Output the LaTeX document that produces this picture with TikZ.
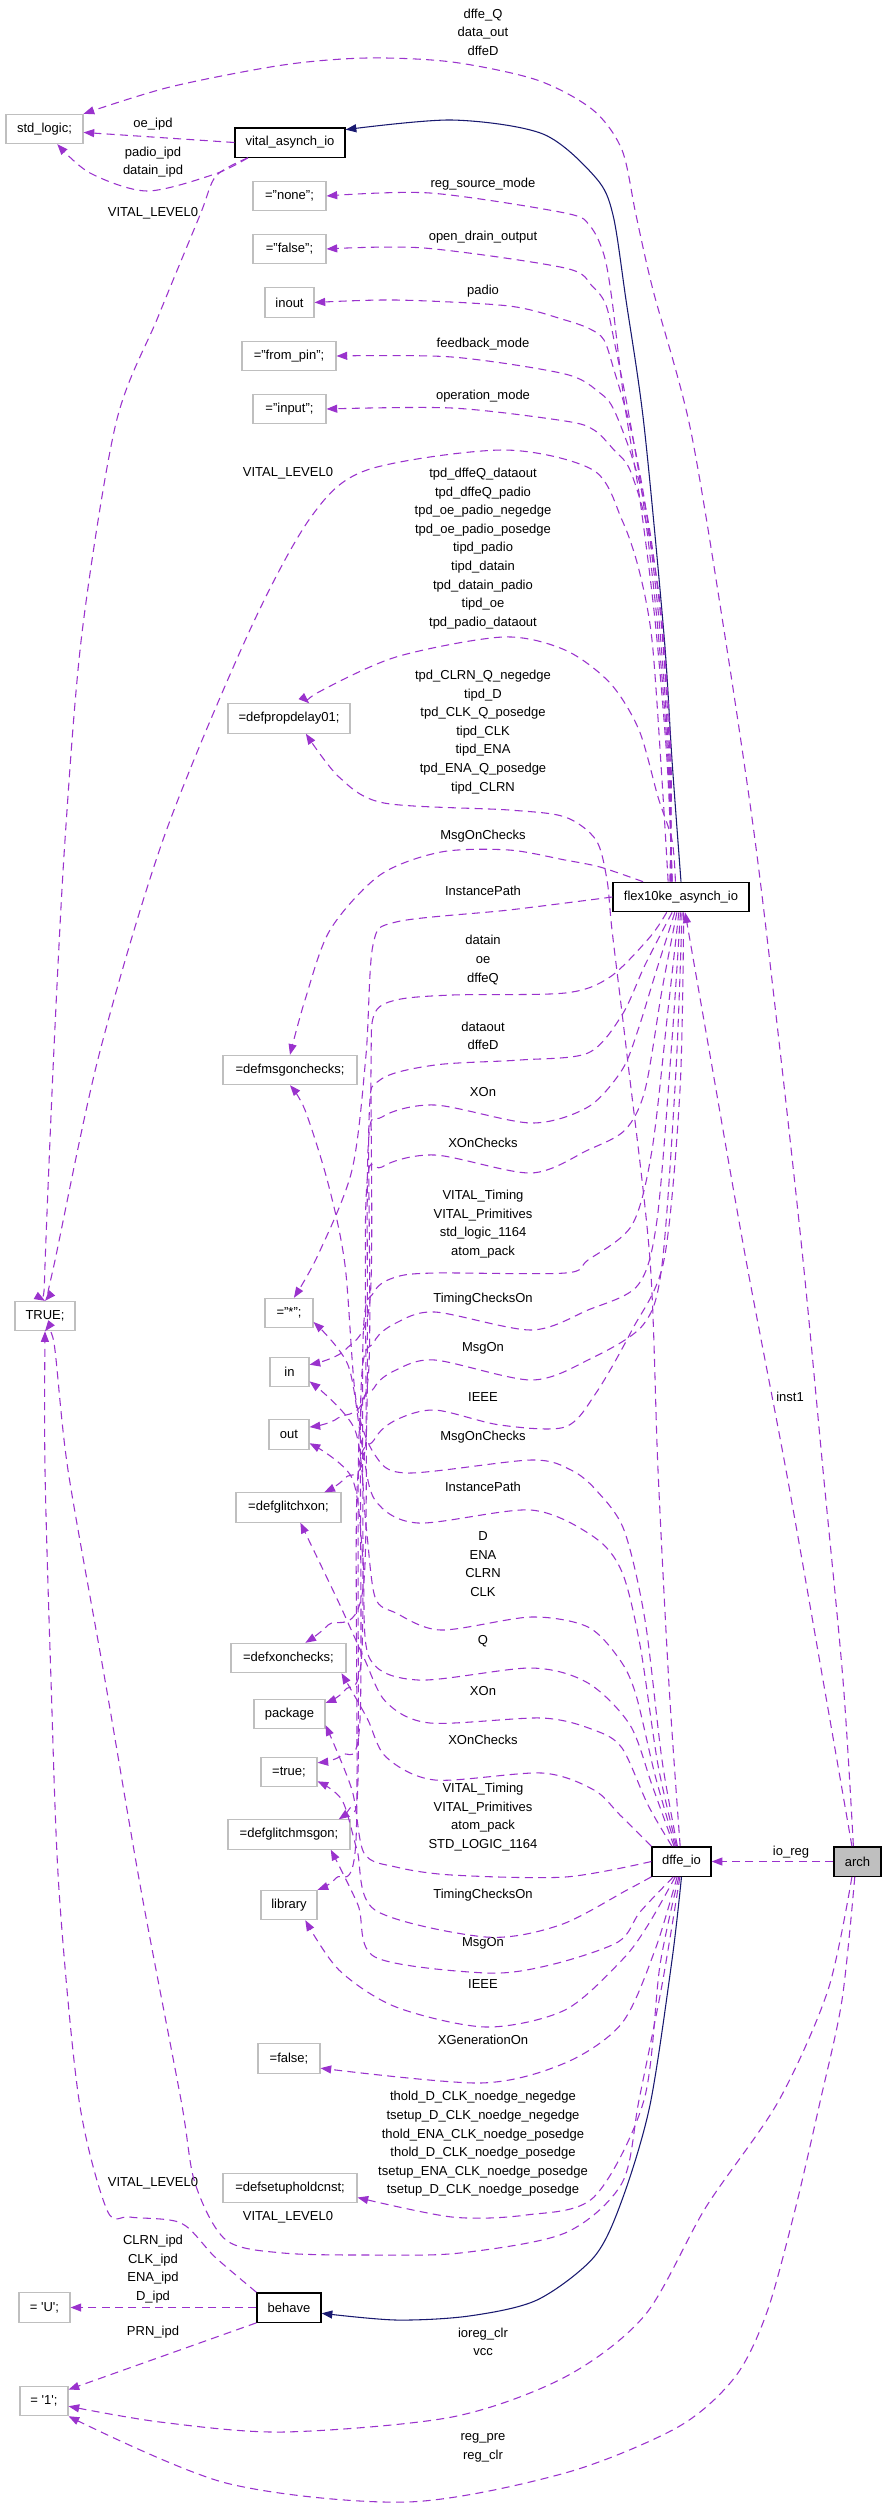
\documentclass[tikz,border=0pt]{standalone}
\usepackage{fontspec}
\setmainfont{Liberation Sans}
\usetikzlibrary{arrows.meta}
\definecolor{depc}{RGB}{154,50,205}
\definecolor{inhc}{RGB}{25,25,112}
\definecolor{gbd}{RGB}{191,191,191}
\newcommand\eplot[2]{\draw[#1] plot[smooth,tension=0.5] coordinates {#2};}
\begin{document}
\begin{tikzpicture}[x=0.75pt,y=-0.75pt,
  every node/.style={font=\fontsize{9.75}{13.95}\selectfont},
  gbox/.style={draw=gbd,line width=0.8pt,fill=white,minimum height=22pt,inner sep=0pt},
  kbox/.style={draw=black,line width=1pt,fill=white,minimum height=22pt,inner sep=0pt},
  lab/.style={align=center,inner sep=0pt},
  dep/.style={draw=depc,line width=0.8pt,dash pattern=on 6pt off 4pt,-{Triangle[length=8pt,width=6pt]}},
  inh/.style={draw=inhc,line width=0.8pt,-{Triangle[length=8pt,width=6pt]}}]
\fill[white] (0,0) rectangle (883,2517);
\useasboundingbox (0,0) rectangle (883,2517);
% nodes
\node[gbox,minimum width=57.75pt] (std) at (44.5,129) {std\_logic;};
\node[kbox,minimum width=82.5pt] (vital) at (290,142.5) {vital\_asynch\_io};
\node[gbox,minimum width=54.75pt] (none) at (289.5,196) {="none";};
\node[gbox,minimum width=54.75pt] (false1) at (289.5,249) {="false";};
\node[gbox,minimum width=36.75pt] (inout) at (289.5,302.5) {inout};
\node[gbox,minimum width=70.5pt] (frompin) at (289,356) {="from\_pin";};
\node[gbox,minimum width=54.75pt] (input) at (289.5,409) {="input";};
\node[gbox,minimum width=91.5pt] (propdelay) at (289,718.5) {=defpropdelay01;};
\node[kbox,minimum width=102pt] (flex) at (681,897) {flex10ke\_asynch\_io};
\node[gbox,minimum width=100.5pt] (msgon) at (290,1070) {=defmsgonchecks;};
\node[gbox,minimum width=45pt] (TRUE) at (45,1316) {TRUE;};
\node[gbox,minimum width=36pt] (star) at (289,1313) {="*";};
\node[gbox,minimum width=29.25pt] (in) at (289.5,1372) {in};
\node[gbox,minimum width=30pt] (out) at (289,1434.5) {out};
\node[gbox,minimum width=78.75pt] (glitchxon) at (288.5,1507.5) {=defglitchxon;};
\node[gbox,minimum width=86.25pt] (xonchecks) at (288.5,1658) {=defxonchecks;};
\node[gbox,minimum width=53.25pt] (package) at (289.5,1714) {package};
\node[gbox,minimum width=42pt] (true) at (289,1772) {=true;};
\node[gbox,minimum width=91.5pt] (glitchmsgon) at (289,1834.5) {=defglitchmsgon;};
\node[gbox,minimum width=42pt] (library) at (289,1905) {library};
\node[gbox,minimum width=46.5pt] (false2) at (289,2058.5) {=false;};
\node[gbox,minimum width=100.5pt] (setuphold) at (290,2188) {=defsetupholdcnst;};
\node[gbox,minimum width=38.25pt] (U) at (44.5,2307.5) {= \textquotesingle U\textquotesingle;};
\node[kbox,minimum width=48pt] (behave) at (289,2307.5) {behave};
\node[gbox,minimum width=36pt] (one) at (44,2401) {= \textquotesingle 1\textquotesingle;};
\node[kbox,minimum width=44.25pt] (dffe) at (681.5,1861.5) {dffe\_io};
\node[kbox,minimum width=35.25pt,fill=gbd] (arch) at (857.5,1861.5) {arch};
% labels
\node[lab] (l01) at (483,32) {dffe\_Q\\data\_out\\dffeD};
\node[lab] (l02) at (153,124) {oe\_ipd};
\node[lab] (l03) at (153,162) {padio\_ipd\\datain\_ipd};
\node[lab] (l04) at (153,213) {VITAL\_LEVEL0};
\node[lab] (l05) at (483,184) {reg\_source\_mode};
\node[lab] (l06) at (483,237) {open\_drain\_output};
\node[lab] (l07) at (483,291) {padio};
\node[lab] (l08) at (483,344) {feedback\_mode};
\node[lab] (l09) at (483,396) {operation\_mode};
\node[lab] (l10) at (288,473) {VITAL\_LEVEL0};
\node[lab] (l11) at (483,548.5) {tpd\_dffeQ\_dataout\\tpd\_dffeQ\_padio\\tpd\_oe\_padio\_negedge\\tpd\_oe\_padio\_posedge\\tipd\_padio\\tipd\_datain\\tpd\_datain\_padio\\tipd\_oe\\tpd\_padio\_dataout};
\node[lab] (l12) at (483,732) {tpd\_CLRN\_Q\_negedge\\tipd\_D\\tpd\_CLK\_Q\_posedge\\tipd\_CLK\\tipd\_ENA\\tpd\_ENA\_Q\_posedge\\tipd\_CLRN};
\node[lab] (l13) at (483,836) {MsgOnChecks};
\node[lab] (l14) at (483,891) {InstancePath};
\node[lab] (l15) at (483,960) {datain\\oe\\dffeQ};
\node[lab] (l16) at (483,1036) {dataout\\dffeD};
\node[lab] (l17) at (483,1092) {XOn};
\node[lab] (l18) at (483,1143) {XOnChecks};
\node[lab] (l19) at (483,1224) {VITAL\_Timing\\VITAL\_Primitives\\std\_logic\_1164\\atom\_pack};
\node[lab] (l20) at (483,1299) {TimingChecksOn};
\node[lab] (l21) at (483,1348) {MsgOn};
\node[lab] (l22) at (483,1397) {IEEE};
\node[lab] (l23) at (483,1437) {MsgOnChecks};
\node[lab] (l24) at (483,1487) {InstancePath};
\node[lab] (l25) at (483,1564) {D\\ENA\\CLRN\\CLK};
\node[lab] (l26) at (483,1641) {Q};
\node[lab] (l27) at (483,1691) {XOn};
\node[lab] (l28) at (483,1740) {XOnChecks};
\node[lab] (l29) at (483,1817) {VITAL\_Timing\\VITAL\_Primitives\\atom\_pack\\STD\_LOGIC\_1164};
\node[lab] (l30) at (483,1895) {TimingChecksOn};
\node[lab] (l31) at (483,1943) {MsgOn};
\node[lab] (l32) at (483,1984) {IEEE};
\node[lab] (l33) at (483,2040) {XGenerationOn};
\node[lab] (l34) at (483,2144) {thold\_D\_CLK\_noedge\_negedge\\tsetup\_D\_CLK\_noedge\_negedge\\thold\_ENA\_CLK\_noedge\_posedge\\thold\_D\_CLK\_noedge\_posedge\\tsetup\_ENA\_CLK\_noedge\_posedge\\tsetup\_D\_CLK\_noedge\_posedge};
\node[lab] (l35) at (153,2183) {VITAL\_LEVEL0};
\node[lab] (l36) at (288,2217) {VITAL\_LEVEL0};
\node[lab] (l37) at (153,2269) {CLRN\_ipd\\CLK\_ipd\\ENA\_ipd\\D\_ipd};
\node[lab] (l38) at (153,2332) {PRN\_ipd};
\node[lab] (l39) at (483,2342) {ioreg\_clr\\vcc};
\node[lab] (l40) at (483,2448) {reg\_pre\\reg\_clr};
\node[lab] (l41) at (791,1852) {io\_reg};
\node[lab] (l42) at (790,1397) {inst1};
% solid edges
\eplot{inh}{(flex.north) (672,760) (664,635) (644,425) (626,300) (613,215) (596,178) (543,134) (452,120) (vital.13)}
\eplot{inh}{(dffe.south) (672,1960) (650,2105) (622,2200) (594,2257) (537,2300) (469,2316) (396,2320) (behave.-10)}
% arch edges
\draw[dep] (arch.west) -- (dffe.east);
\eplot{dep}{(arch.110) (823,1680) (786,1470) (746,1260) (710,1055) (flex.-75)}
\eplot{dep}{(arch.105) (843,1680) (823,1470) (803,1260) (780,1050) (755,840) (724,630) (690,427) (653,290) (636,215) (622,150) (593,110) (537,80) (452,62) (367,58) (283,65) (170,87) (std.north east)}
\eplot{dep}{(arch.-110) (828,1990) (778,2102) (706,2207) (645,2315) (565,2377) (452,2417) (283,2432) (160,2422) (one.-12)}
\eplot{dep}{(arch.-100) (842,2000) (820,2102) (795,2210) (767,2312) (735,2377) (678,2427) (565,2473) (407,2502) (226,2483) (one.south east)}
% vital edges
\draw[dep] (vital.west) -- (std.-5);
\eplot{dep}{(vital.-160) (215,174) (147,191) (90,173) (std.-50)}
\eplot{dep}{(vital.-160) (216,176) (200,215) (158,317) (116,423) (82,633) (65,840) (54,1048) (45,1265) (TRUE.north)}
% flex upper edges
\eplot{dep}{(flex.130) (662,780) (652,640) (639,570) (622,520) (593,470) (503,450) (367,470) (311,517) (249,632) (164,837) (99,1055) (54,1265) (TRUE.north)}
\eplot{dep}{(flex.120) (667,760) (655,620) (640,500) (624,400) (612,300) (604,255) (590,226) (565,213) (430,193) (none.east)}
\eplot{dep}{(flex.120) (668,760) (657,620) (643,500) (628,410) (615,345) (606,305) (592,286) (565,268) (424,248) (false1.east)}
\eplot{dep}{(flex.122) (669,760) (659,620) (646,510) (631,430) (614,370) (604,340) (590,329) (565,320) (509,306) (396,300) (inout.east)}
\eplot{dep}{(flex.124) (670,760) (661,620) (648,520) (633,460) (614,410) (600,393) (565,374) (452,357) (frompin.east)}
\eplot{dep}{(flex.126) (671,760) (662,620) (648,530) (630,470) (614,450) (594,430) (565,421) (452,408) (input.east)}
\eplot{dep}{(flex.110) (672,840) (658,797) (639,730) (610,683) (565,650) (503,637) (396,657) (317,693) (propdelay.37)}
% flex middle edges
\eplot{dep}{(flex.158) (600,867) (565,860) (509,850) (441,852) (380,875) (330,930) (305,1000) (msgon.north)}
\eplot{dep}{(flex.west) (509,910) (396,922) (373,945) (366,1055) (352,1170) (318,1255) (star.72)}
\eplot{dep}{(flex.-133) (650,937) (610,977) (565,993) (452,995) (396,1000) (374,1015) (371,1070) (370,1300) (345,1350) (in.20)}
\eplot{dep}{(flex.-120) (645,965) (622,1015) (588,1053) (520,1060) (435,1065) (380,1080) (369,1120) (368,1380) (338,1418) (out.20)}
\eplot{dep}{(flex.-112) (655,975) (638,1030) (622,1070) (588,1107) (531,1123) (435,1105) (382,1117) (368,1150) (366,1440) (345,1478) (glitchxon.23)}
\eplot{dep}{(flex.-105) (662,990) (645,1090) (625,1130) (588,1150) (531,1173) (435,1155) (382,1167) (366,1200) (364,1580) (328,1625) (xonchecks.42)}
\eplot{dep}{(flex.-98) (668,1010) (652,1150) (632,1225) (588,1260) (565,1273) (435,1273) (396,1277) (374,1292) (363,1340) (362,1650) (345,1690) (package.17)}
\eplot{dep}{(flex.-92) (672,1040) (657,1220) (638,1285) (588,1310) (531,1330) (435,1312) (396,1323) (374,1342) (361,1390) (360,1720) (342,1755) (true.18)}
\eplot{dep}{(flex.-86) (676,1070) (662,1265) (643,1325) (588,1360) (531,1380) (435,1360) (396,1370) (374,1388) (359,1435) (358,1780) (350,1808) (glitchmsgon.17)}
\eplot{dep}{(flex.-80) (680,1090) (664,1260) (632,1330) (596,1393) (565,1427) (500,1425) (435,1410) (396,1420) (374,1440) (357,1490) (356,1840) (336,1878) (library.north east)}
% dffe edges
\eplot{dep}{(dffe.95) (669,1685) (658,1470) (650,1260) (627,1055) (612,930) (607,880) (596,840) (565,817) (509,810) (384,803) (339,777) (propdelay.-42)}
\eplot{dep}{(dffe.105) (662,1760) (645,1620) (624,1530) (596,1490) (571,1470) (531,1460) (407,1473) (375,1455) (356,1400) (345,1265) (328,1183) (305,1110) (msgon.south)}
\eplot{dep}{(dffe.108) (658,1765) (640,1645) (622,1572) (594,1537) (531,1510) (418,1523) (375,1500) (362,1445) (348,1365) (star.-20)}
\eplot{dep}{(dffe.112) (655,1775) (636,1695) (620,1660) (588,1627) (531,1617) (441,1630) (396,1613) (375,1597) (366,1525) (355,1430) (in.-25)}
\eplot{dep}{(dffe.116) (652,1785) (630,1725) (588,1683) (531,1668) (418,1680) (369,1657) (363,1560) (352,1478) (out.-23)}
\eplot{dep}{(dffe.122) (648,1805) (622,1748) (594,1730) (542,1718) (430,1723) (386,1702) (364,1658) (339,1603) (glitchxon.-52)}
\eplot{dep}{(dffe.north west) (620,1815) (594,1790) (542,1773) (435,1780) (386,1757) (367,1718) (xonchecks.-16)}
\eplot{dep}{(dffe.west) (565,1877) (452,1875) (396,1867) (364,1853) (352,1790) (package.-17)}
\eplot{dep}{(dffe.south west) (627,1890) (560,1925) (486,1937) (375,1910) (357,1850) (342,1800) (true.-18)}
\eplot{dep}{(dffe.-118) (640,1912) (618,1942) (550,1965) (486,1973) (375,1957) (358,1905) (glitchmsgon.-20)}
\eplot{dep}{(dffe.-112) (648,1925) (622,1960) (565,2010) (486,2027) (396,2007) (339,1970) (library.-43)}
\eplot{dep}{(dffe.-106) (655,1950) (622,2023) (565,2063) (480,2083) (false2.-17)}
\eplot{dep}{(dffe.-100) (660,1965) (644,2100) (594,2197) (526,2215) (452,2217) (setuphold.-8)}
\eplot{dep}{(dffe.-96) (662,1985) (639,2100) (622,2183) (565,2233) (460,2253) (373,2255) (283,2253) (226,2240) (195,2183) (181,2100) (141,1890) (105,1680) (68,1470) (54,1343) (TRUE.south)}
% behave edges
\eplot{dep}{(behave.north west) (215,2257) (181,2223) (130,2217) (107,2210) (79,2100) (59,1890) (51,1680) (45,1470) (TRUE.south)}
\draw[dep] (behave.west) -- (U.east);
\draw[dep] (behave.south west) -- (one.25);
\end{tikzpicture}
\end{document}
